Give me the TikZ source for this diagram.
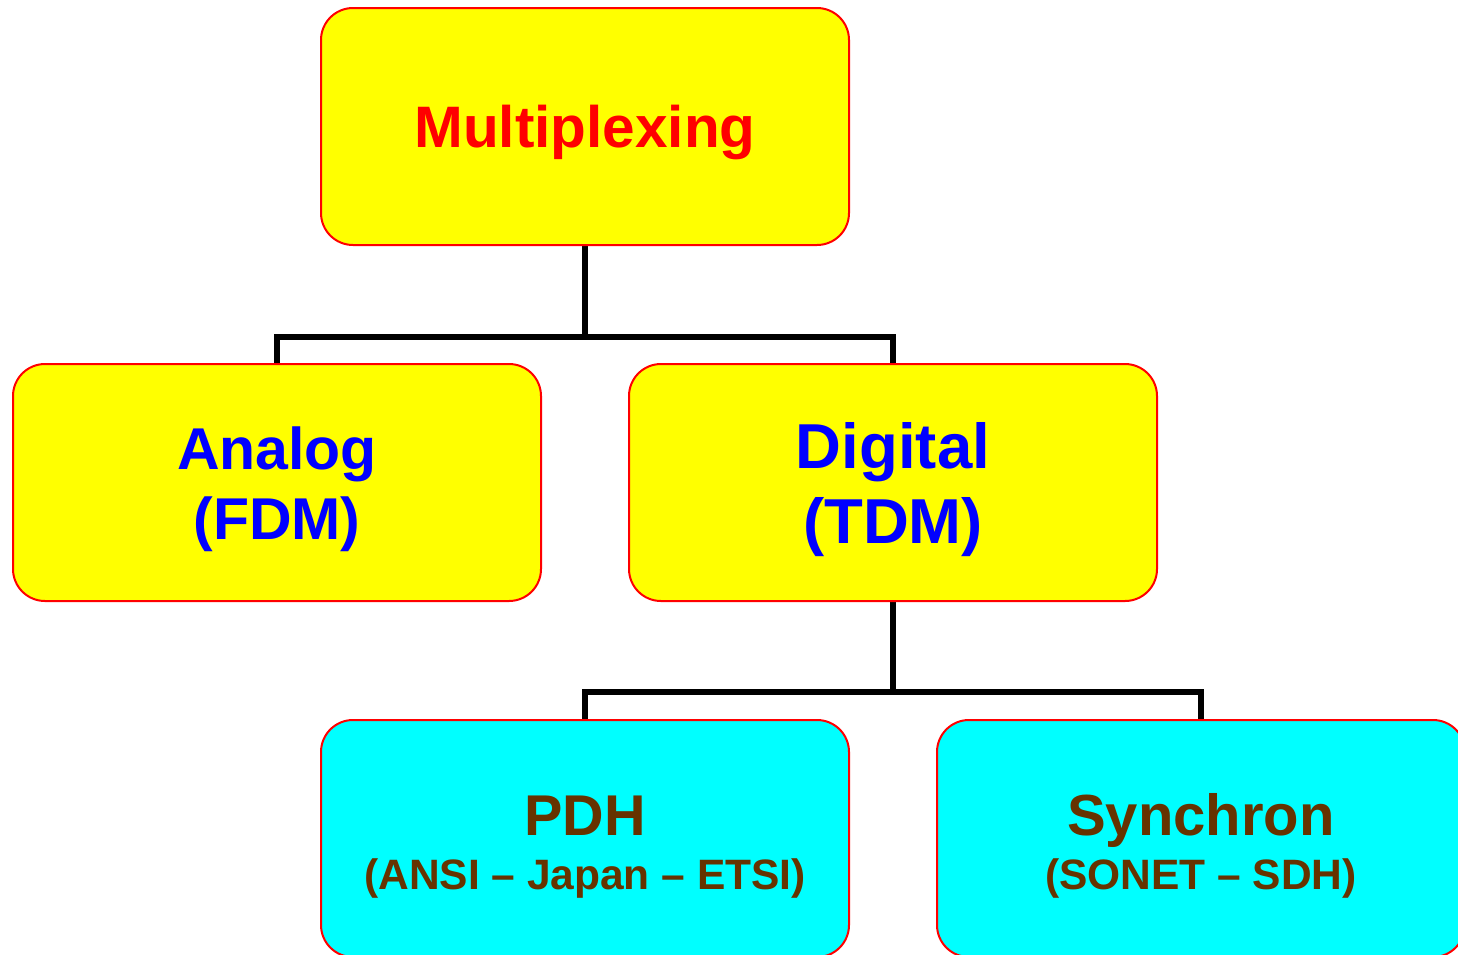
\documentclass[tikz,border=0pt]{standalone}
\usepackage{fontspec}
\setmainfont{Liberation Sans}
\usetikzlibrary{backgrounds}

\definecolor{boxyellow}{HTML}{FFFF00}
\definecolor{boxcyan}{HTML}{00FFFF}
\definecolor{edgered}{HTML}{FF0000}
\definecolor{labelblue}{HTML}{0000FF}
\definecolor{labelbrown}{HTML}{663300}

\tikzset{
  box/.style={draw=edgered, line width=2pt, rounded corners=32pt,
    minimum width=528pt, minimum height=237pt, inner sep=0pt},
  conn/.style={draw=black, line width=5.5pt},
  lbl/.style={anchor=base, inner sep=0pt, font=\bfseries},
}
\newcommand{\fsz}[1]{\fontsize{#1}{#1}\selectfont}

\begin{document}
\begin{tikzpicture}[x=1pt, y=-1pt]
  \useasboundingbox (0,0) rectangle (1458,954);
  \clip (0,0) rectangle (1458,954);

  % boxes
  \node[box, fill=boxyellow] (mux)      at (585,126.5)  {};
  \node[box, fill=boxyellow] (analog)   at (277,482.5)  {};
  \node[box, fill=boxyellow] (digital)  at (893,482.5)  {};
  \node[box, fill=boxcyan]   (pdh)      at (585,838.5)  {};
  \node[box, fill=boxcyan]   (synchron) at (1201,838.5) {};

  % labels
  \node[lbl, text=edgered]    (muxT)  at (585,147) {\fsz{58.5}Multiplexing};
  \node[lbl, text=labelblue]  (anaA)  at (277,469) {\fsz{59}Analog};
  \node[lbl, text=labelblue]  (anaB)  at (277,539) {\fsz{59}(FDM)};
  \node[lbl, text=labelblue]  (digA)  at (893,468) {\fsz{63.5}Digital};
  \node[lbl, text=labelblue]  (digB)  at (893,543) {\fsz{63.5}(TDM)};
  \node[lbl, text=labelbrown] (pdhA)  at (585,835) {\fsz{57.5}PDH};
  \node[lbl, text=labelbrown] (pdhB)  at (585,889) {\fsz{42.5}(ANSI – Japan – ETSI)};
  \node[lbl, text=labelbrown] (synA)  at (1201,835) {\fsz{58}Synchron};
  \node[lbl, text=labelbrown] (synB)  at (1201,889) {\fsz{42.5}(SONET – SDH)};

  % tree connectors
  \coordinate (bus1) at (585,337);
  \coordinate (bus2) at (893,692);
  \begin{scope}[on background layer]
    \draw[conn] (mux.south) -- (bus1);
    \draw[conn] (analog.north) -- (analog.north |- bus1)
                -- (digital.north |- bus1) -- (digital.north);
    \draw[conn] (digital.south) -- (bus2);
    \draw[conn] (pdh.north) -- (pdh.north |- bus2)
                -- (synchron.north |- bus2) -- (synchron.north);
  \end{scope}
\end{tikzpicture}
\end{document}
